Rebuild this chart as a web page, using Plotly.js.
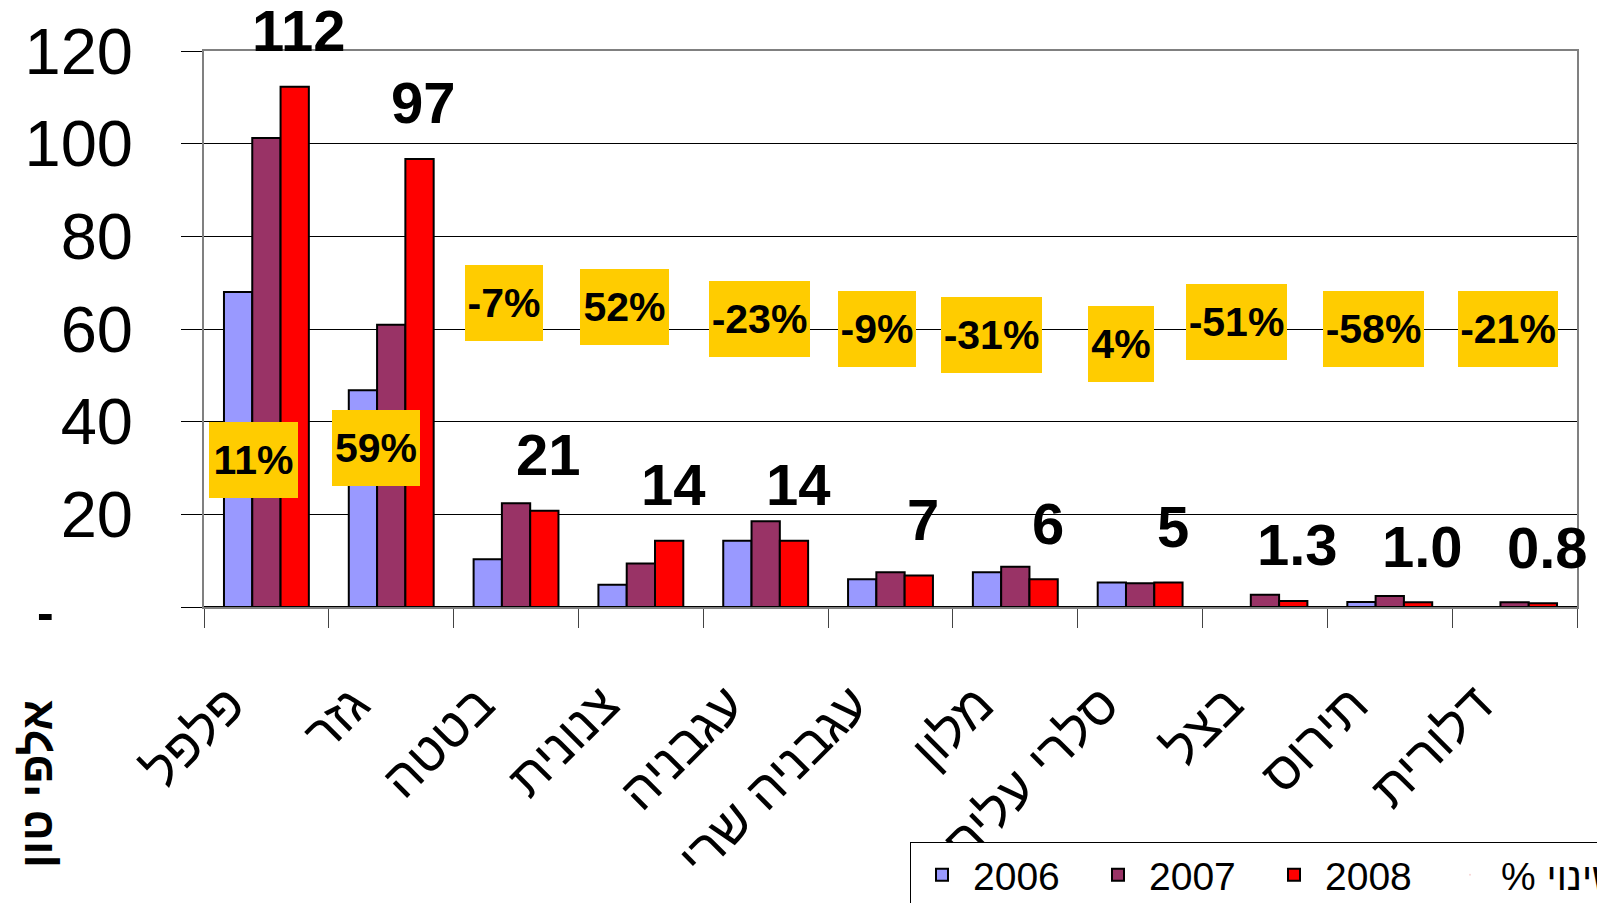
<!DOCTYPE html>
<html><head><meta charset="utf-8">
<script src="https://cdn.plot.ly/plotly-3.0.1.min.js"></script>
<style>html,body{margin:0;padding:0;background:#fff;} #chart{width:1597px;height:903px;}</style>
</head><body><div id="chart"></div>
<script>
// ---- data ----
const categories = ["פלפל","גזר","בטטה","צנונית","עגבניה","עגבניה שרי","מלון","סלרי עלים","בצל","תירוס","דלורית"];
const seriesNames = ["2006","2007","2008"];
const values2006 = [68, 46.8, 10.3, 4.8, 14.3, 6.0, 7.5, 5.3, null, 1.1, null];
const values2007 = [101.2, 60.9, 22.4, 9.4, 18.5, 7.5, 8.7, 5.1, 2.65, 2.4, 1.0];
const values2008 = [112.3, 96.7, 20.8, 14.3, 14.3, 6.8, 6.0, 5.3, 1.3, 1.0, 0.8];
const changeLabels = ["11%","59%","-7%","52%","-23%","-9%","-31%","4%","-51%","-58%","-21%"];
const changeLegendName = "% שינוי";
const yTickValues = [0,20,40,60,80,100,120];
const yTickLabels = ["","20","40","60","80","100","120"];
const yTitle = "אלפי טון";

// ---- layout helpers (positions / styles, not data) ----
const colors = ["#9999FF","#993366","#FF0000"];
const changeBoxPos = [ // [x offset from category, y in axis units, box width px]
  [-0.10,31.8,89],[-0.12,34.3,88],[-0.10,65.6,78],[-0.13,64.7,89],[-0.05,62.2,101],
  [-0.11,60.0,78],[-0.19,58.7,101],[-0.155,56.8,66],[-0.23,61.5,101],[-0.13,60.0,101],[-0.05,60.0,100]
];
const W = 1597, H = 903, ML = 204, MR = 20, MT = 51, MB = 296;
const PW = W - ML - MR, PH = H - MT - MB;

const allSeries = [values2006, values2007, values2008];
const traces = allSeries.map((vals, k) => ({
  type: 'bar', name: seriesNames[k], x: categories, y: vals,
  marker: {color: colors[k], line: {color: '#000', width: 2}},
  hoverinfo: 'x+y'
}));
traces.push({
  type: 'scatter', mode: 'markers', name: changeLegendName,
  x: [categories[0]], y: [null], marker: {opacity: 0, size: 1}, showlegend: true
});

const fmt = v => v >= 2 ? String(Math.round(v)) : v.toFixed(1);
const annotations = [];
values2008.forEach((v, i) => {
  annotations.push({
    x: i + 0.26, y: v, xref: 'x', yref: 'y', text: '<b>' + fmt(v) + '</b>',
    showarrow: false, yanchor: 'middle', yshift: 56,
    font: {family: 'Liberation Sans, Arial, sans-serif', size: 58, color: '#000'}
  });
});
changeLabels.forEach((t, i) => {
  const p = changeBoxPos[i];
  annotations.push({
    x: i + p[0], y: p[1], xref: 'x', yref: 'y', text: '<b>' + t + '</b>',
    showarrow: false, bgcolor: '#FFCC00', borderpad: 0, borderwidth: 0,
    width: p[2], height: 76, align: 'center', valign: 'middle',
    font: {family: 'Liberation Sans, Arial, sans-serif', size: 41, color: '#000'}
  });
});
annotations.push({
  xref: 'paper', yref: 'paper', x: (36 - ML) / PW, y: (MT + PH - 784) / PH,
  xanchor: 'center', yanchor: 'middle',
  text: '<b>' + yTitle + '</b>', textangle: -90, showarrow: false,
  font: {family: 'Liberation Sans, Arial, sans-serif', size: 45, color: '#000'}
});
annotations.push({
  xref: 'paper', yref: 'paper', x: (45 - ML) / PW, y: (MT + PH - 613) / PH,
  xanchor: 'center', yanchor: 'middle',
  text: '<b>-</b>', showarrow: false,
  font: {family: 'Liberation Sans, Arial, sans-serif', size: 50, color: '#000'}
});

const layout = {
  width: W, height: H,
  margin: {l: ML, r: MR, t: MT, b: MB, pad: 0},
  paper_bgcolor: '#fff', plot_bgcolor: '#fff',
  barmode: 'group', bargap: 0.32, bargroupgap: 0,
  showlegend: true,
  font: {family: 'Liberation Sans, Arial, sans-serif', color: '#000'},
  xaxis: {
    type: 'category', categoryorder: 'array', categoryarray: categories,
    range: [-0.5, categories.length - 0.5], tickson: 'boundaries',
    ticks: 'outside', ticklen: 19, tickcolor: '#444', tickwidth: 1,
    showline: true, linecolor: '#808080', linewidth: 2, mirror: true,
    showgrid: false, zeroline: false, tickangle: -45,
    tickfont: {family: 'Liberation Sans, Arial, sans-serif', size: 52, color: '#000'},
    ticklabelstandoff: 44, ticklabelshift: -37, automargin: false
  },
  yaxis: {
    range: [0, 120], tickmode: 'array', tickvals: yTickValues, ticktext: yTickLabels,
    ticks: 'outside', ticklen: 21, tickcolor: '#000', tickwidth: 1,
    showgrid: true, gridcolor: '#000', gridwidth: 1,
    showline: true, linecolor: '#808080', linewidth: 2, mirror: true,
    zeroline: true, zerolinecolor: '#000', zerolinewidth: 2,
    tickfont: {family: 'Liberation Sans, Arial, sans-serif', size: 65, color: '#000'},
    ticklabelstandoff: 35, automargin: false, fixedrange: true
  },
  legend: {
    orientation: 'h', xref: 'container', yref: 'container',
    x: 910 / W, y: 1 - 842 / H, xanchor: 'left', yanchor: 'top',
    bgcolor: '#fff', bordercolor: '#000', borderwidth: 1,
    font: {family: 'Liberation Sans, Arial, sans-serif', size: 39, color: '#000'},
    itemwidth: 52, entrywidth: 109, entrywidthmode: 'pixels', traceorder: 'normal'
  },
  annotations: annotations
};

Plotly.newPlot('chart', traces, layout, {displayModeBar: false, staticPlot: true});
</script>
</body></html>
